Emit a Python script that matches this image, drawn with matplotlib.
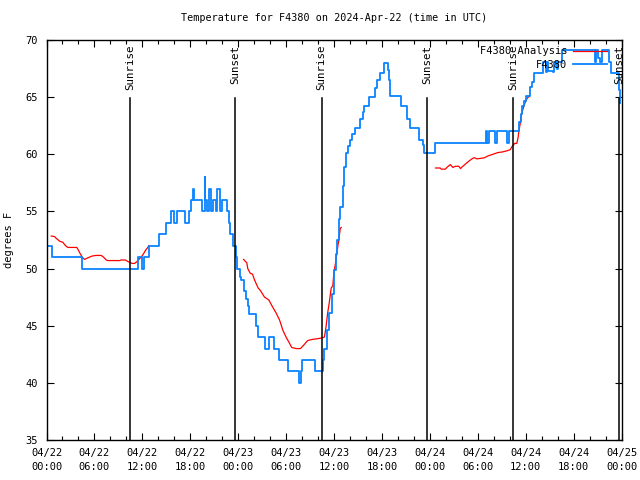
import datetime as dt
import numpy as np
import matplotlib
matplotlib.use("Agg")
import matplotlib.pyplot as plt
import matplotlib.dates as mdates

# hours after 2024-04-22 00:00 UTC
obs_hours = [0.0, 0.7, 4.4, 11.4, 12.0, 12.2, 12.8, 14.1, 14.9, 15.6, 16.0, 16.4, 17.4, 17.8,
             18.1, 18.3, 18.5, 19.5, 19.8, 19.9, 20.1, 20.4, 20.6, 20.8, 21.2, 21.4, 21.75, 22.0,
             22.6, 22.8, 23.0, 23.3, 23.7, 23.9, 24.2, 24.4, 24.7, 25.0, 25.2, 25.4, 26.2, 26.5,
             27.3, 27.8, 28.5, 29.1, 30.3, 31.6, 31.9, 32.0, 33.6, 34.6, 34.8, 35.1, 35.4, 35.7,
             36.0, 36.2, 36.4, 36.6, 36.8, 37.1, 37.3, 37.5, 37.8, 38.0, 38.3, 38.6, 39.2, 39.6,
             39.8, 40.4, 41.1, 41.4, 41.7, 42.3, 42.7, 42.9, 43.0, 44.4, 45.1, 45.5, 46.7, 47.1,
             47.3, 48.6, 55.06, 55.18, 55.35, 56.2, 56.4, 57.7, 57.85, 59.2, 59.4, 59.6, 59.85,
             60.07, 60.5, 60.77, 61.0, 62.23, 62.5, 62.65, 62.8, 63.4, 63.55, 63.9, 64.0, 64.57,
             68.62, 68.83, 69.0, 69.25, 69.5, 69.87, 70.4, 70.7, 71.66, 71.75]
obs_temp = [52, 51, 50, 51, 50, 51, 52, 53, 54, 55, 54, 55, 54, 55,
            56, 57, 56, 55, 58, 56, 55, 57, 55, 56, 55, 57, 55, 56,
            55, 54, 53, 52, 51, 50, 49.3, 49, 48, 47.3, 46.7, 46, 45, 44,
            43, 44, 43, 42, 41, 40, 41, 42, 41, 42, 43, 44.6, 46.1, 47.8,
            49.9, 51.3, 52.5, 54.3, 55.4, 57.2, 58.9, 60.1, 60.7, 61.25, 61.8, 62.3, 63.1, 63.7,
            64.2, 65.0, 65.8, 66.5, 67.1, 68.0, 67.4, 66.5, 65.1, 64.2, 63.1, 62.3, 61.25, 60.8,
            60.1, 61, 62, 61, 62, 61, 62, 61, 62, 62.85, 63.5, 64.2, 64.7,
            65.1, 65.9, 66.35, 67.1, 68.1, 67.2, 68.1, 67.3, 67.2, 68.1, 67.5, 68.1, 69.1,
            68.1, 69.1, 68.4, 68.1, 69.1, 69.1, 68.1, 67.1, 65.6, 64.5]

# analysis series, NaN separates the three runs
ana_hours = [0.59, 1.0, 1.21, 1.63, 2.04, 2.38, 2.67, 3.79, 3.92, 4.22, 4.47, 4.76, 5.05, 5.38,
             5.72, 6.22, 6.85, 7.14, 7.48, 7.68, 9.14, 9.35, 9.89, 10.1, 10.39, 10.73, 11.02,
             11.31, 11.56, 11.86, 12.15, 12.4, 12.68, 12.81, np.nan,
             24.67, 25.08, 25.2, 25.5, 25.8, 26.05, 26.5, 26.76, 27.3, 27.84, 28.26, 28.76, 29.18,
             29.6, 30.0, 30.4, 30.7, 31.27, 31.8, 32.2, 32.7, 33.27, 33.77, 34.27, 34.8, 35.0,
             35.2, 35.4, 35.65, 35.85, 35.98, 36.19, 36.4, 36.6, 36.78, 36.9, np.nan,
             48.71, 49.3, 49.42, 49.96, 50.13, 50.55, 50.88, 51.2, 51.63, 51.84, 52.13, 52.55,
             52.97, 53.38, 53.6, 53.88, 54.43, 54.85, 55.26, 55.89, 56.51, 57.06, 57.64, 58.06,
             58.31, 58.48, 58.6, 58.89, 59.06, 59.14, 59.32, 59.36, 59.52, 59.77, 59.98, 60.19,
             60.48]
ana_temp = [52.85, 52.8, 52.65, 52.4, 52.3, 52.0, 51.85, 51.85, 51.7, 51.3, 51.0, 50.8, 50.9, 51.0,
            51.1, 51.15, 51.15, 51.0, 50.75, 50.7, 50.7, 50.75, 50.75, 50.65, 50.55, 50.45, 50.45,
            50.6, 50.8, 51.0, 51.3, 51.6, 51.85, 52.0, np.nan,
            50.8, 50.5, 50.0, 49.6, 49.5, 49.0, 48.3, 48.1, 47.5, 47.25, 46.7, 46.1, 45.5,
            44.6, 44.0, 43.5, 43.1, 43.0, 43.0, 43.3, 43.7, 43.8, 43.85, 43.9, 44.0, 44.9,
            46.1, 47.0, 48.3, 48.5, 49.6, 50.5, 51.6, 52.5, 53.5, 53.6, np.nan,
            58.8, 58.8, 58.7, 58.7, 58.85, 59.1, 58.85, 58.95, 58.95, 58.75, 58.95, 59.2,
            59.45, 59.65, 59.7, 59.6, 59.65, 59.7, 59.85, 60.0, 60.15, 60.2, 60.3, 60.4,
            60.7, 60.8, 60.95, 60.95, 61.5, 62.0, 62.7, 63.0, 63.6, 64.2, 64.6, 64.9,
            65.1]

event_hours = [10.49, 23.64, 34.46, 47.68, 58.45, 71.69]
event_labels = ["Sunrise", "Sunset", "Sunrise", "Sunset", "Sunrise", "Sunset"]

base = dt.datetime(2024, 4, 22)
obs_t = [base + dt.timedelta(hours=h) for h in obs_hours]
ana_t = [mdates.date2num(base + dt.timedelta(hours=h)) if not np.isnan(h) else np.nan
         for h in ana_hours]

plt.rcParams['font.family'] = ['DejaVu Sans Mono']
plt.rcParams['font.size'] = 7

fig = plt.figure(figsize=(6.4, 4.8), dpi=100)
ax = fig.add_axes([0.0727, 0.0833, 0.8984, 0.8334])

ax.plot(ana_t, ana_temp, color='red', lw=0.9, label='F4380 Analysis')
ax.plot(obs_t, obs_temp, color='#0a84ff', lw=1.3, drawstyle='steps-post', label='F4380')

for h, lab in zip(event_hours, event_labels):
    t = base + dt.timedelta(hours=h)
    ax.plot([t, t], [35, 64.9], color='black', lw=1.1)
    ax.text(t, 69.6, lab, rotation=90, ha='center', va='top', fontsize=7.8)

ax.set_xlim(base, base + dt.timedelta(hours=72))
ax.set_ylim(35, 70)
ax.set_yticks(range(35, 71, 5))
ax.xaxis.set_major_locator(mdates.HourLocator(byhour=[0, 6, 12, 18]))
ax.xaxis.set_minor_locator(mdates.HourLocator(byhour=range(0, 24, 2)))
ax.xaxis.set_major_formatter(mdates.DateFormatter('%m/%d\n%H:%M'))
ax.tick_params(which='both', direction='in', top=True, right=True, labelsize=7.5)
ax.tick_params(which='major', length=5, width=0.8, pad=6)
ax.tick_params(which='minor', length=3, width=0.8)
for lab in ax.get_xticklabels():
    lab.set_linespacing(1.5)
for s in ax.spines.values():
    s.set_linewidth(1.0)

ax.set_ylabel('degrees F', fontsize=7.5)
ax.yaxis.set_label_coords(-0.057, 0.5)
ax.set_title('Temperature for F4380 on 2024-Apr-22 (time in UTC)', fontsize=7.3, pad=14)

ax.legend(loc='upper right', bbox_to_anchor=(0.985, 1.0), frameon=False, markerfirst=False,
          fontsize=7.5, handlelength=3.2, handletextpad=0.6, labelspacing=0.35,
          borderaxespad=0.2)

fig.savefig('out.png', dpi=100)
